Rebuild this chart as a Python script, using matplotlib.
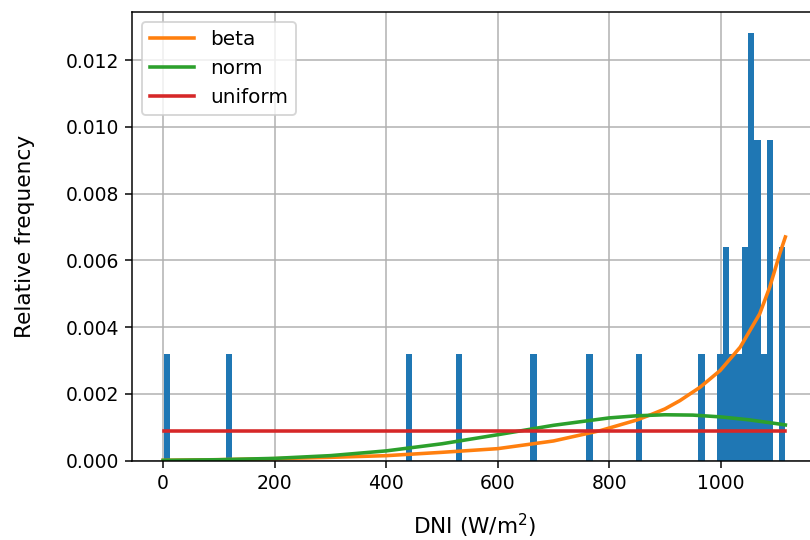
import numpy as np
import matplotlib
matplotlib.use("Agg")
import matplotlib.pyplot as plt

# ---------------------------------------------------------
# DNI samples (W/m^2)
# ---------------------------------------------------------
dni = [1, 118, 441, 530, 664, 765, 854, 965, 999,
       1010, 1012, 1021, 1032, 1041, 1046,
       1051, 1054, 1056, 1058, 1062, 1065, 1069,
       1077, 1085, 1088, 1091, 1108, 1116]

# fitted pdf curves
beta_x = [0, 100, 200, 300, 400, 500, 600, 700, 784, 850, 875, 900,
          927, 963, 999, 1035, 1070, 1088, 1106, 1116]
beta_y = [0.00001, 0.00003, 0.00006, 0.0001, 0.00015, 0.00025, 0.00036,
          0.00059, 0.0009, 0.00122, 0.00138, 0.00155, 0.0018, 0.0022,
          0.0027, 0.0034, 0.0044, 0.0052, 0.0062, 0.0067]

norm_x = [0, 100, 200, 300, 400, 500, 600, 700, 800, 850, 900, 950,
          1000, 1050, 1100, 1116]
norm_y = [0.00001, 0.000028, 0.000069, 0.000151, 0.000293, 0.000506,
          0.000777, 0.001059, 0.001281, 0.001345, 0.001375, 0.001365,
          0.001311, 0.001225, 0.00111, 0.00107]

unif_x = [1, 1116]
unif_y = [0.000897, 0.000897]

# ---------------------------------------------------------
# Plot
# ---------------------------------------------------------
fig = plt.figure(figsize=(6, 4), dpi=135)
ax = fig.add_axes([0.163, 0.1469, 0.845, 0.831])

ax.hist(dni, bins=100, density=True, color="C0")
ax.plot(beta_x, beta_y, color="C1", lw=1.9, label="beta")
ax.plot(norm_x, norm_y, color="C2", lw=1.9, label="norm")
ax.plot(unif_x, unif_y, color="C3", lw=1.9, label="uniform")

ax.set_xlim(-55.8, 1171.8)
ax.set_ylim(0, 0.01344)
ax.set_xticks([0, 200, 400, 600, 800, 1000])
ax.grid(True)
ax.set_axisbelow(True)
ax.set_xlabel("DNI (W/m$^2$)", fontsize=11.5, labelpad=10)
ax.set_ylabel("Relative frequency", fontsize=11.5, labelpad=16)
ax.legend(loc="upper left", fontsize=10.7, handlelength=2.2)

fig.savefig("out.png", dpi=135)
